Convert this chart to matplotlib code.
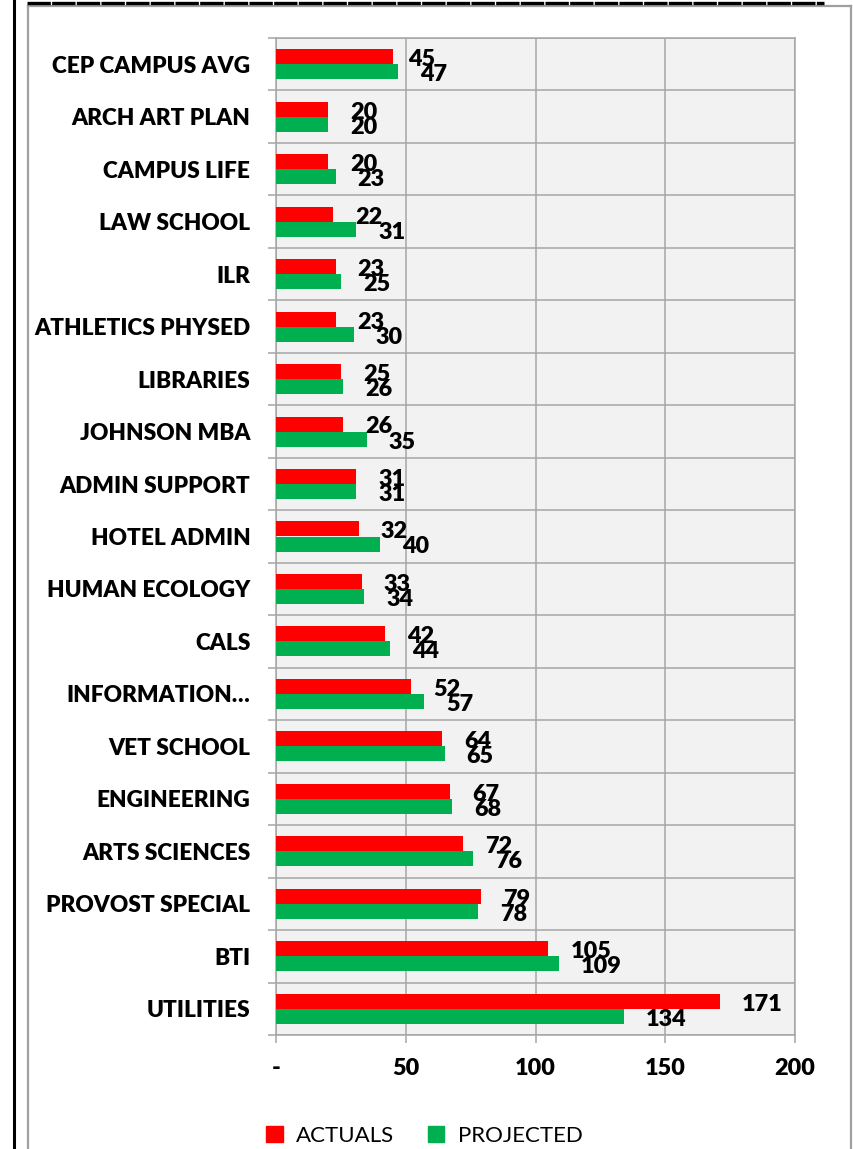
import os
import numpy as np
import matplotlib
matplotlib.use("Agg")
import matplotlib.pyplot as plt
from matplotlib import font_manager
from matplotlib.lines import Line2D
from matplotlib.patches import Patch


def pick_bold_font(candidates):
    # first (family, weight) whose face really resolves to a bold-ish file
    for fam, wt in candidates:
        try:
            path = font_manager.findfont(font_manager.FontProperties(family=fam, weight=wt),
                                         fallback_to_default=False)
        except Exception:
            continue
        name = os.path.basename(path).lower()
        if "semi" in name or "demi" in name or "medium" in name:
            continue
        if "bold" in name or "black" in name or "heavy" in name:
            return fam, wt
    return "DejaVu Sans", "bold"


BOLD_FAM, BOLD_WT = pick_bold_font([("Lato", "heavy"), ("Liberation Sans", "bold"),
                                    ("Open Sans", "bold")])
plt.rcParams['font.family'] = [BOLD_FAM, 'DejaVu Sans']

categories = ["CEP CAMPUS AVG", "ARCH ART PLAN", "CAMPUS LIFE", "LAW SCHOOL", "ILR",
              "ATHLETICS PHYSED", "LIBRARIES", "JOHNSON MBA", "ADMIN SUPPORT",
              "HOTEL ADMIN", "HUMAN ECOLOGY", "CALS", "INFORMATION\u2026",
              "VET SCHOOL", "ENGINEERING", "ARTS SCIENCES", "PROVOST SPECIAL",
              "BTI", "UTILITIES"]
actuals = [45, 20, 20, 22, 23, 23, 25, 26, 31, 32, 33, 42, 52, 64, 67, 72, 79, 105, 171]
projected = [47, 20, 23, 31, 25, 30, 26, 35, 31, 40, 34, 44, 57, 65, 68, 76, 78, 109, 134]
x_ticks = [0, 50, 100, 150, 200]
x_tick_labels = ["-", "50", "100", "150", "200"]

RED = "#ff0000"
GREEN = "#00b050"
GRID = "#a6a6a6"

W, H = 854, 1149
fig = plt.figure(figsize=(W / 100, H / 100), dpi=100)
fig.patch.set_facecolor("white")

# plot area in pixel coords -> figure fractions
left, right, top, bottom = 276, 795, 38, 1035
ax = fig.add_axes([left / W, 1 - bottom / H, (right - left) / W, (bottom - top) / H])
ax.set_facecolor("#f2f2f2")

n = len(categories)
y = np.arange(n)
h = 0.286

ax.barh(y - h / 2, actuals, height=h, color=RED, label="ACTUALS", zorder=3)
ax.barh(y + h / 2, projected, height=h, color=GREEN, label="PROJECTED", zorder=3)

FS = 16.3

# value labels, left aligned just past each bar end
lbl_font = dict(fontsize=16.8, fontweight=BOLD_WT, color="black", ha="left", va="baseline")
nudge = {("a", 0): -4.5}
for i in range(n):
    dx = 15.8 + nudge.get(("a", i), 0)
    ax.annotate(str(actuals[i]), (actuals[i], y[i] - h / 2), xytext=(dx, -6.8),
                textcoords="offset points", zorder=4, **lbl_font)
    dx = 15.8 + nudge.get(("p", i), 0)
    ax.annotate(str(projected[i]), (projected[i], y[i] + h / 2), xytext=(dx, -6.8),
                textcoords="offset points", zorder=4, **lbl_font)

ax.set_xlim(0, 200)
ax.set_ylim(n - 0.5, -0.5)

ax.set_xticks(x_ticks)
ax.set_xticklabels(x_tick_labels, fontsize=16.8, fontweight=BOLD_WT)
ax.set_yticks(y)
ax.set_yticklabels(categories, fontsize=FS, fontweight=BOLD_WT)
ax.set_yticks(np.arange(-0.5, n, 1.0), minor=True)

ax.tick_params(axis="y", which="major", length=0, pad=18.5)
ax.tick_params(axis="y", which="minor", length=5.8, width=1.1, color=GRID, direction="out")
ax.tick_params(axis="x", which="major", length=5.8, width=1.1, color=GRID, direction="out", pad=10.5)

ax.grid(axis="x", which="major", color=GRID, linewidth=1.1, zorder=1)
ax.grid(axis="y", which="minor", color=GRID, linewidth=1.1, zorder=1)
ax.set_axisbelow(True)
for s in ax.spines.values():
    s.set_color(GRID)
    s.set_linewidth(1.1)

handles = [Patch(color=RED), Patch(color=GREEN)]
fig.legend(handles, ["ACTUALS", "PROJECTED"], loc="center", bbox_to_anchor=(0.497, 1 - 1136 / H),
           ncol=2, frameon=False, prop={"size": 16, "weight": "normal"}, handlelength=0.75,
           handleheight=0.75, handletextpad=0.6, columnspacing=1.5)

# page decorations: grey chart frame, black left rule and top rule
def fx(px):
    return px / W

def fy(py):
    return 1 - py / H

frame_kw = dict(color="#a0a0a0", linewidth=1.6, transform=fig.transFigure)
fig.add_artist(Line2D([fx(28), fx(28)], [fy(6), fy(1160)], **frame_kw))
fig.add_artist(Line2D([fx(28), fx(851)], [fy(6), fy(6)], **frame_kw))
fig.add_artist(Line2D([fx(851), fx(851)], [fy(6), fy(1160)], **frame_kw))
fig.add_artist(Line2D([fx(14), fx(14)], [fy(0), fy(1149)], color="black", linewidth=2.2,
                      transform=fig.transFigure))
fig.add_artist(Line2D([fx(27), fx(824)], [fy(2.5), fy(2.5)], color="black", linewidth=2.4,
                      dashes=(7, 0.4), transform=fig.transFigure))

fig.savefig("out.png", dpi=100)
